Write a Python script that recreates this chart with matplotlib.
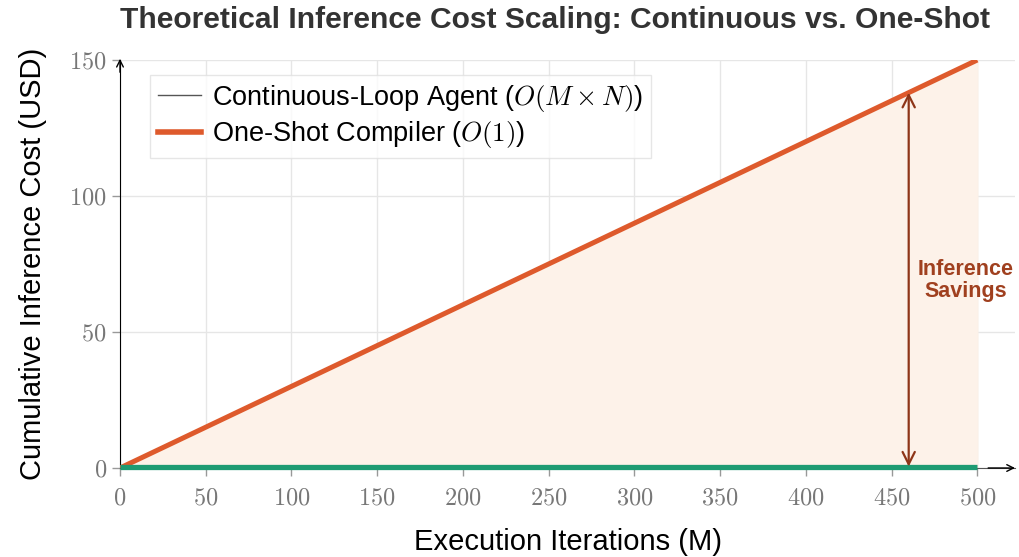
import numpy as np
import matplotlib
matplotlib.use("Agg")
import matplotlib.pyplot as plt
from matplotlib.lines import Line2D
from matplotlib.ticker import FuncFormatter

# data
iterations = np.array([0, 100, 200, 300, 400, 500])
continuous_cost = np.array([0, 30, 60, 90, 120, 150])
oneshot_cost = np.array([0.5, 0.5, 0.5, 0.5, 0.5, 0.5])
arrow_x = 460
arrow_top = 138
x_ticks = [0, 50, 100, 150, 200, 250, 300, 350, 400, 450, 500]
y_ticks = [0, 50, 100, 150]

plt.rcParams['font.family'] = ['Liberation Sans', 'DejaVu Sans']
plt.rcParams['mathtext.fontset'] = 'cm'

fig = plt.figure(figsize=(10.19, 5.57), dpi=100)
ax = fig.add_axes([120 / 1019, 89 / 557, 895 / 1019, 408 / 557])

orange = '#DE5A2C'
green = '#1E9B72'
brown = '#8E3518'

# 영역 채우기
ax.fill_between(iterations, oneshot_cost, continuous_cost, color='#FDF2E9', zorder=1)
ax.plot(iterations, continuous_cost, color=orange, lw=3.6, zorder=3, solid_capstyle='butt')
ax.plot(iterations, oneshot_cost, color=green, lw=3.8, zorder=3, solid_capstyle='butt',
        clip_on=False)

# 절감 화살표
ax.annotate('', xy=(arrow_x, arrow_top), xytext=(arrow_x, oneshot_cost[0]),
            arrowprops=dict(arrowstyle='<->', color=brown, lw=1.6,
                            mutation_scale=22, shrinkA=0, shrinkB=0), zorder=4)
ax.text(493, 69, 'Inference\nSavings', color='#A0401F', fontsize=15.5,
        fontweight='bold', ha='center', va='center', linespacing=1.05)

ax.set_xlim(0, 522)
ax.set_ylim(0, 150)
ax.set_xticks(x_ticks)
ax.set_yticks(y_ticks)
ax.xaxis.set_major_formatter(FuncFormatter(lambda v, p: r'$%d$' % v))
ax.yaxis.set_major_formatter(FuncFormatter(lambda v, p: r'$%d$' % v))
ax.tick_params(axis='both', colors='#999999', labelcolor='#777777',
               labelsize=17.5, length=6, width=1)
ax.tick_params(axis='x', pad=8)
ax.grid(True, color='#E6E6E6', lw=1)
ax.set_axisbelow(True)

for s in ['top', 'right']:
    ax.spines[s].set_visible(False)
ax.spines['left'].set_color('black')
ax.spines['bottom'].set_color('#555555')

# 축 끝 화살표
ax.annotate('', xy=(1, 0), xycoords='axes fraction', xytext=(0.97, 0),
            arrowprops=dict(arrowstyle='->', color='black', lw=1, mutation_scale=12,
                            shrinkA=0, shrinkB=0), annotation_clip=False)
ax.annotate('', xy=(0, 1.003), xycoords='axes fraction', xytext=(0, 0.97),
            arrowprops=dict(arrowstyle='->', color='black', lw=1, mutation_scale=12,
                            shrinkA=0, shrinkB=0), annotation_clip=False)

ax.set_xlabel('Execution Iterations (M)', fontsize=21, labelpad=13)
ax.set_ylabel('Cumulative Inference Cost (USD)', fontsize=21, labelpad=16)
fig.suptitle('Theoretical Inference Cost Scaling: Continuous vs. One-Shot',
             fontsize=21.6, fontweight='bold', color='#333333', x=0.545, y=0.99)

handles = [Line2D([0], [0], color='#555555', lw=1),
           Line2D([0], [0], color=orange, lw=4)]
labels = [r'Continuous-Loop Agent ($O(M \times N)$)', r'One-Shot Compiler ($O(1)$)']
leg = ax.legend(handles, labels, loc='upper left', bbox_to_anchor=(0.018, 0.997),
                fontsize=19.5, frameon=True, fancybox=False, edgecolor='#E0E0E0',
                handlelength=1.6, handletextpad=0.4, borderpad=0.3, labelspacing=0.2)
leg.get_frame().set_linewidth(1)

fig.savefig('out.png', dpi=100)
